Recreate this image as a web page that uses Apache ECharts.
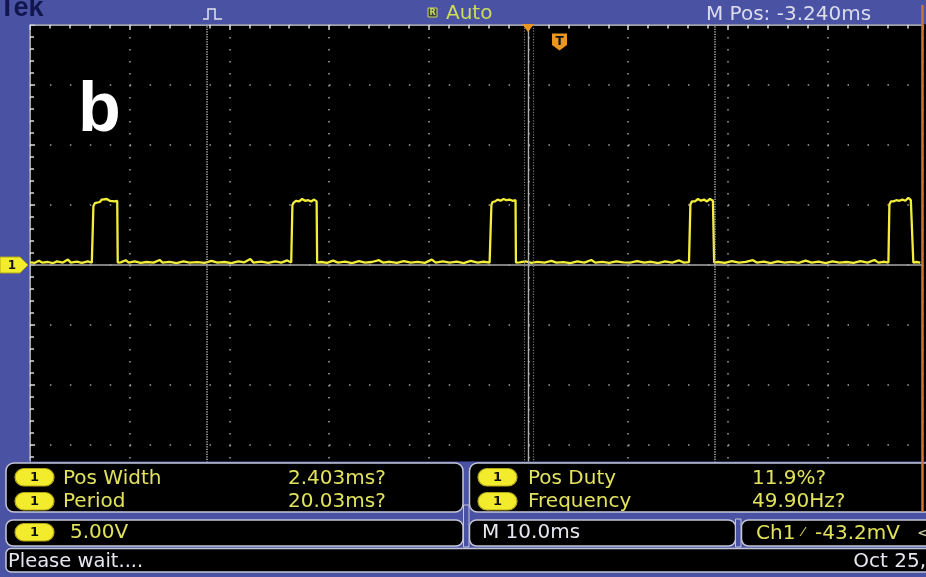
<!DOCTYPE html>
<html>
<head>
<meta charset="utf-8">
<script src="https://cdn.jsdelivr.net/npm/echarts@6/dist/echarts.min.js"></script>
<style>
html,body{margin:0;padding:0;background:#000;}
#chart{width:926px;height:577px;}
</style>
</head>
<body>
<div id="chart"></div>
<script>
// ---- Data (time in ms relative to screen centre, voltage in V) ----
const timeAxisTicks = [-50, -40, -30, -20, -10, 0, 10, 20, 30];
const voltAxisTicks = [-20, -15, -10, -5, 0, 5, 10, 15, 20];
const trace = [
 [-50.0,0.22],[-49.5,0.18],[-49.1,0.35],[-48.8,0.2],[-48.2,0.25],[-47.7,0.15],[-47.3,0.3],[-46.7,0.2],[-46.2,0.45],[-45.9,0.2],[-45.3,0.28],[-44.8,0.18],[-44.2,0.3],[-43.8,0.2],
 [-43.68,0.2],[-43.64,4.9],[-43.5,5.15],[-43.3,5.3],[-43.0,5.25],[-42.8,5.45],[-42.6,5.3],[-42.3,5.5],[-42.0,5.35],[-41.8,5.45],[-41.5,5.3],[-41.25,5.35],[-41.2,0.2],
 [-40.9,0.22],[-40.4,0.4],[-40.1,0.2],[-39.5,0.3],[-38.9,0.18],[-38.3,0.25],[-37.6,0.2],[-37.0,0.42],[-36.7,0.2],[-36.0,0.26],[-35.3,0.15],[-34.6,0.3],[-34.0,0.2],[-33.2,0.24],[-32.5,0.18],[-31.8,0.35],[-31.2,0.2],[-30.5,0.25],[-29.8,0.15],[-29.1,0.3],[-28.5,0.22],[-27.9,0.5],[-27.6,0.2],[-26.8,0.28],[-26.1,0.18],[-25.4,0.3],[-24.8,0.2],[-24.2,0.38],[-23.8,0.2],
 [-23.72,0.2],[-23.68,5.0],[-23.55,5.2],[-23.3,5.35],[-23.0,5.3],[-22.7,5.5],[-22.4,5.35],[-22.1,5.4],[-21.8,5.3],[-21.5,5.45],[-21.25,5.3],[-21.2,0.2],
 [-20.8,0.25],[-20.2,0.18],[-19.6,0.36],[-19.1,0.2],[-18.4,0.28],[-17.7,0.15],[-17.0,0.32],[-16.4,0.2],[-15.7,0.25],[-15.0,0.4],[-14.6,0.2],[-13.9,0.27],[-13.2,0.17],[-12.5,0.33],[-11.8,0.2],[-11.1,0.26],[-10.4,0.18],[-9.7,0.45],[-9.3,0.2],[-8.6,0.3],[-7.9,0.2],[-7.2,0.28],[-6.5,0.16],[-5.8,0.35],[-5.1,0.2],[-4.5,0.27],[-3.9,0.2],
 [-3.76,0.2],[-3.72,5.0],[-3.6,5.25],[-3.35,5.3],[-3.1,5.45],[-2.8,5.35],[-2.5,5.5],[-2.2,5.4],[-1.9,5.45],[-1.6,5.35],[-1.3,5.4],[-1.26,0.2],
 [-0.9,0.22],[-0.3,0.3],[0.3,0.18],[0.9,0.26],[1.6,0.2],[2.3,0.35],[2.8,0.2],[3.5,0.24],[4.2,0.16],[4.9,0.3],[5.6,0.2],[6.3,0.42],[6.7,0.2],[7.4,0.26],[8.1,0.18],[8.8,0.3],[9.5,0.22],[10.2,0.2],[10.9,0.33],[11.6,0.2],[12.3,0.27],[13.0,0.15],[13.7,0.3],[14.4,0.2],[15.1,0.38],[15.6,0.2],[16.1,0.24],
 [16.2,0.2],[16.24,5.05],[16.4,5.3],[16.7,5.3],[17.0,5.5],[17.3,5.35],[17.6,5.45],[17.9,5.3],[18.2,5.5],[18.5,5.35],[18.58,5.4],[18.62,0.2],
 [19.0,0.25],[19.7,0.18],[20.4,0.32],[21.1,0.2],[21.8,0.26],[22.5,0.4],[22.9,0.2],[23.6,0.28],[24.3,0.16],[25.0,0.3],[25.7,0.2],[26.4,0.26],[27.1,0.18],[27.8,0.36],[28.4,0.2],[29.1,0.28],[29.8,0.15],[30.5,0.3],[31.2,0.2],[31.9,0.25],[32.6,0.18],[33.3,0.32],[34.0,0.2],[34.7,0.42],[35.1,0.2],[35.7,0.27],[36.1,0.2],
 [36.16,0.2],[36.2,5.05],[36.35,5.3],[36.6,5.3],[36.9,5.4],[37.2,5.35],[37.5,5.45],[37.8,5.35],[38.1,5.6],[38.35,5.4],[38.55,5.35],[38.6,0.2],
 [38.9,0.25],[39.3,0.2]
];
const cursorTimes = [-32.28, 18.71];
const measureLabels = ['Pos Width', 'Period', 'Pos Duty', 'Frequency'];
const measureValues = ['2.403ms?', '20.03ms?', '11.9%?', '49.90Hz?'];
const channelScale = '5.00V';
const timeBase = 'M 10.0ms';
const triggerInfo = ['Ch1', '-43.2mV'];
const statusText = 'Please wait....';
const dateText = 'Oct 25,';
const headerTexts = ['Tek', 'Auto', 'M Pos: -3.240ms'];
const panelLabel = 'b';

// ---- Styles ----
const BLUE = '#4a53a3';
const YTXT = '#e2e25c';
const WTXT = '#e6e6f0';
const BORDER = '#c4c6d8';
const FONT = '"DejaVu Sans", sans-serif';

function txt(x, y, s, color, size, opts) {
  opts = opts || {};
  return {
    type: 'text', x: x, y: y, z: opts.z || 60, silent: true,
    style: {
      text: s, fill: color,
      font: (opts.weight || 'normal') + ' ' + size + 'px ' + (opts.family || FONT),
      align: opts.align || 'left', verticalAlign: 'middle',
      textAlign: opts.align || 'left', textVerticalAlign: 'middle'
    }
  };
}
function box(x, y, w, h, r, fill, stroke) {
  return { type: 'rect', z: 55, silent: true, shape: { x: x, y: y, width: w, height: h, r: r },
    style: { fill: fill, stroke: stroke || null, lineWidth: 1.5 } };
}
function pill(x, y) {
  return [
    { type: 'rect', z: 58, silent: true, shape: { x: x, y: y, width: 39, height: 17.5, r: 8.75 },
      style: { fill: '#f3ec2c', stroke: '#b0a418', lineWidth: 1.2 } },
    txt(x + 19.5, y + 9.2, '1', '#111', 13, { align: 'center', weight: 'bold', z: 59 })
  ];
}

const graphics = [
  // frame
  { type: 'rect', z: 50, silent: true, shape: { x: 0, y: 0, width: 926, height: 24.3 }, style: { fill: BLUE } },
  { type: 'rect', z: 50, silent: true, shape: { x: 0, y: 0, width: 29.2, height: 577 }, style: { fill: BLUE } },
  { type: 'rect', z: 52, silent: true, shape: { x: 0, y: 461.5, width: 926, height: 116 }, style: { fill: BLUE } },
  txt(-1, 9, headerTexts[0], '#12164e', 27, { weight: 'bold', family: '"Liberation Sans", Arial, sans-serif' }),
  { type: 'polyline', z: 60, silent: true, shape: { points: [[203, 19], [208, 19], [208, 9], [215, 9], [215, 19], [222, 19]] },
    style: { stroke: '#e4e4ee', lineWidth: 1.5, fill: null } },
  { type: 'rect', z: 60, silent: true, shape: { x: 428, y: 8, width: 9, height: 9 }, style: { fill: '#3c4440', stroke: '#c8d860', lineWidth: 1 } },
  txt(432.5, 12.8, 'R', '#c8d860', 8, { align: 'center', weight: 'bold' }),
  txt(446, 14, headerTexts[1], '#cddc5a', 20),
  txt(706, 14.5, headerTexts[2], '#dcdcee', 20),
  // trigger markers
  { type: 'polygon', z: 60, silent: true, shape: { points: [[522, 24], [534, 24], [528, 32]] }, style: { fill: '#eb961e' } },
  { type: 'polygon', z: 60, silent: true, shape: { points: [[552, 33.5], [567, 33.5], [567, 45], [559.5, 50.5], [552, 45]] }, style: { fill: '#eb961e' } },
  txt(559.5, 41.5, 'T', '#111', 12, { align: 'center', weight: 'bold' }),
  // channel ground marker
  { type: 'polygon', z: 60, silent: true, shape: { points: [[0, 257], [20, 257], [28, 265], [20, 273], [0, 273]] }, style: { fill: '#f3ec2c', stroke: '#b0a418', lineWidth: 1 } },
  txt(12, 265.5, '1', '#111', 12, { align: 'center', weight: 'bold' }),
  // panel label
  txt(78, 112, panelLabel, '#ffffff', 70, { weight: 'bold', family: '"Liberation Sans", Arial, sans-serif' }),
  // right orange edge
  { type: 'line', z: 70, silent: true, shape: { x1: 922.5, y1: 5, x2: 922.5, y2: 512 }, style: { stroke: '#c8743a', lineWidth: 2.5 } },
  // measurement boxes
  box(6, 463, 457, 49, 8, '#000', BORDER),
  box(469.5, 463, 470, 49, 8, '#000', BORDER),
  box(6, 520, 457, 26, 7, '#000', BORDER),
  box(469.5, 520, 266, 26, 7, '#000', BORDER),
  box(741.5, 520, 200, 26, 7, '#000', BORDER),
  box(6, 548.5, 940, 23.5, 5, '#000', BORDER),
  { type: 'rect', z: 57, silent: true, shape: { x: 463.5, y: 505, width: 5.5, height: 42 }, style: { fill: BLUE, stroke: BORDER, lineWidth: 1 } },
  { type: 'rect', z: 57, silent: true, shape: { x: 735.5, y: 519, width: 5.5, height: 28 }, style: { fill: BLUE, stroke: BORDER, lineWidth: 1 } }
].concat(
  pill(15, 468.5), pill(15, 492.5), pill(478, 468.5), pill(478, 492.5), pill(15, 523.5),
  [
    txt(63, 478.5, measureLabels[0], YTXT, 20),
    txt(63, 502, measureLabels[1], YTXT, 20),
    txt(288, 478.5, measureValues[0], YTXT, 20),
    txt(288, 502, measureValues[1], YTXT, 20),
    txt(528, 478.5, measureLabels[2], YTXT, 20),
    txt(528, 502, measureLabels[3], YTXT, 20),
    txt(752, 478.5, measureValues[2], YTXT, 20),
    txt(752, 502, measureValues[3], YTXT, 20),
    txt(70, 532.5, channelScale, YTXT, 20),
    txt(482, 533, timeBase, WTXT, 20),
    txt(756, 534, triggerInfo[0], YTXT, 20),
    txt(802, 533, '\u2044', YTXT, 13),
    txt(815, 534, triggerInfo[1], YTXT, 20),
    txt(917, 534, '<', '#c8c8a0', 16),
    txt(8, 562, statusText, WTXT, 19.5),
    txt(926, 561.5, dateText, WTXT, 20, { align: 'right' })
  ]
);

const chart = echarts.init(document.getElementById('chart'), null, { renderer: 'canvas' });
chart.setOption({
  backgroundColor: '#000000',
  animation: false,
  grid: { left: 30, top: 25, width: 892.3, height: 480, containLabel: false },
  xAxis: {
    type: 'value', position: 'top', min: timeAxisTicks[0], max: 39.5, interval: 10,
    axisLine: { show: true, onZero: false, lineStyle: { color: '#d6d6e0', width: 1.5 } },
    axisTick: { show: true, inside: true, length: 5, lineStyle: { color: '#d6d6e0', width: 1.5 } },
    minorTick: { show: true, splitNumber: 5, length: 3.5, lineStyle: { color: '#d6d6e0', width: 1.5 } },
    axisLabel: { show: false },
    splitLine: { show: true, lineStyle: { color: '#a2a2a2', width: 1.5, type: [1.5, 10.5] } }
  },
  yAxis: {
    type: 'value', position: 'left', min: voltAxisTicks[0], max: voltAxisTicks[voltAxisTicks.length - 1], interval: 5,
    axisLine: { show: true, onZero: false, lineStyle: { color: '#d6d6e0', width: 1.5 } },
    axisTick: { show: true, inside: true, length: 5, lineStyle: { color: '#d6d6e0', width: 1.5 } },
    minorTick: { show: true, splitNumber: 5, length: 4, lineStyle: { color: '#d6d6e0', width: 1.5 } },
    axisLabel: { show: false },
    splitLine: { show: true, lineStyle: { color: '#a2a2a2', width: 1.5, type: [1.5, 18.44] } }
  },
  series: [
    {
      type: 'line', name: 'graticule', data: [], z: 1, silent: true,
      markLine: {
        silent: true, symbol: ['none', 'none'], label: { show: false }, animation: false,
        data: [
          { xAxis: 0, lineStyle: { color: '#b0b0b0', width: 1.4, type: 'solid' } },
          { yAxis: 0, lineStyle: { color: '#a8a8a8', width: 1.5, type: 'solid' } },
          { xAxis: -0.45, lineStyle: { color: '#7c7c7c', width: 1.2, type: [1.2, 1.6] } },
          { xAxis: 0.45, lineStyle: { color: '#7c7c7c', width: 1.2, type: [1.2, 1.6] } },
          { xAxis: cursorTimes[0], lineStyle: { color: '#b4b4b4', width: 1.5, type: [1.2, 1.3] } },
          { xAxis: cursorTimes[1], lineStyle: { color: '#b4b4b4', width: 1.5, type: [1.2, 1.3] } }
        ]
      }
    },
    {
      type: 'line', name: 'CH1', data: trace, z: 3, silent: true,
      showSymbol: false, symbol: 'none',
      lineStyle: { color: '#f2ee3a', width: 2.3 },
      emphasis: { disabled: true }
    }
  ],
  graphic: { elements: graphics }
});
</script>
</body>
</html>
